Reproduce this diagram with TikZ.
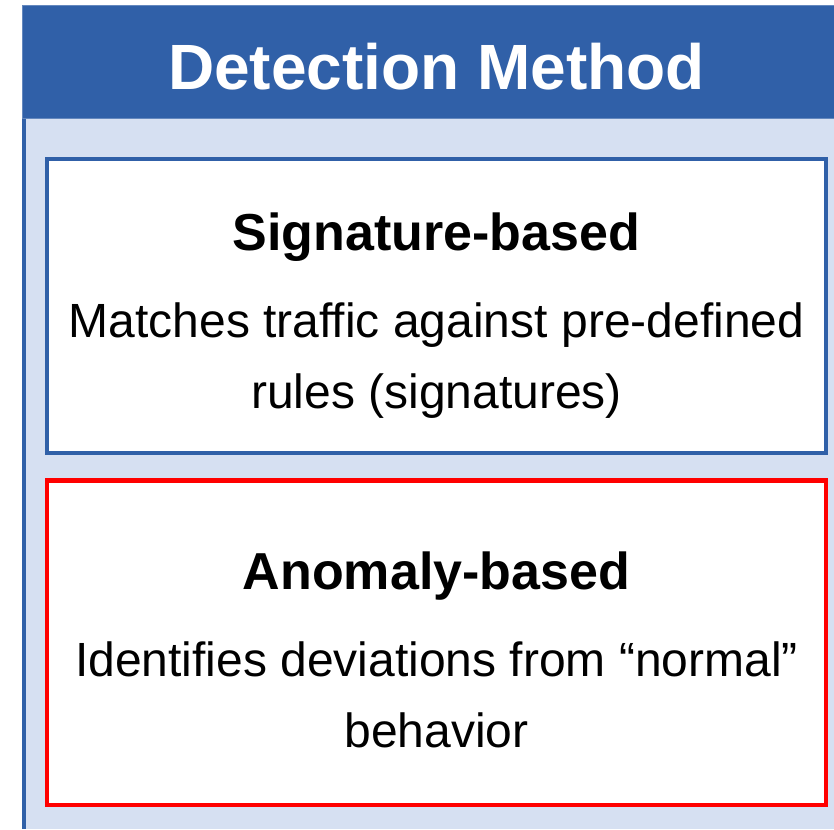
\documentclass[tikz,border=0pt]{standalone}
\usepackage{fontspec}
\setmainfont{Liberation Sans}
\usepackage{xcolor}
\definecolor{hdrblue}{RGB}{48,96,168}
\definecolor{panelblue}{RGB}{214,224,242}

\begin{document}
\begin{tikzpicture}[x=1pt,y=1pt,yscale=-1,
    headtext/.style={anchor=base,inner sep=0pt,text=white,font=\bfseries\fontsize{64}{64}\selectfont},
    titletext/.style={anchor=base,inner sep=0pt,font=\bfseries\fontsize{52}{52}\selectfont},
    bodytext/.style={anchor=base,inner sep=0pt,align=center,font=\fontsize{48}{71}\selectfont}]
\useasboundingbox (0,0) rectangle (834,829);

%Shape: Rectangle [panel body]
\fill [panelblue] (24,119) rectangle (834,829);
\draw [color=hdrblue, line width=4] (24,119) -- (24,829);
%Shape: Rectangle [header]
\draw [color=hdrblue!75!white, line width=1, fill=hdrblue] (22,6) rectangle (835,119);

%Shape: Rectangle [signature box]
\draw [color=hdrblue, line width=4, fill=white] (47,159) rectangle (826,453);
%Shape: Rectangle [anomaly box]
\draw [color=red, line width=4.5, fill=white] (47,480.7) rectangle (826,805);

% Text Node
\node (head) at (436.5,90) [headtext] {Detection Method};
% Text Node
\node (sigtitle) at (436.5,250.7) [titletext] {Signature-based};
% Text Node (base is the last line)
\node (sigtext) at (436.5,408) [bodytext] {Matches traffic against pre-defined\\rules (signatures)};
% Text Node
\node (anotitle) at (436.5,589) [titletext] {Anomaly-based};
% Text Node
\node (anotext) at (436.5,747) [bodytext] {Identifies deviations from “normal”\\behavior};

\end{tikzpicture}
\end{document}
